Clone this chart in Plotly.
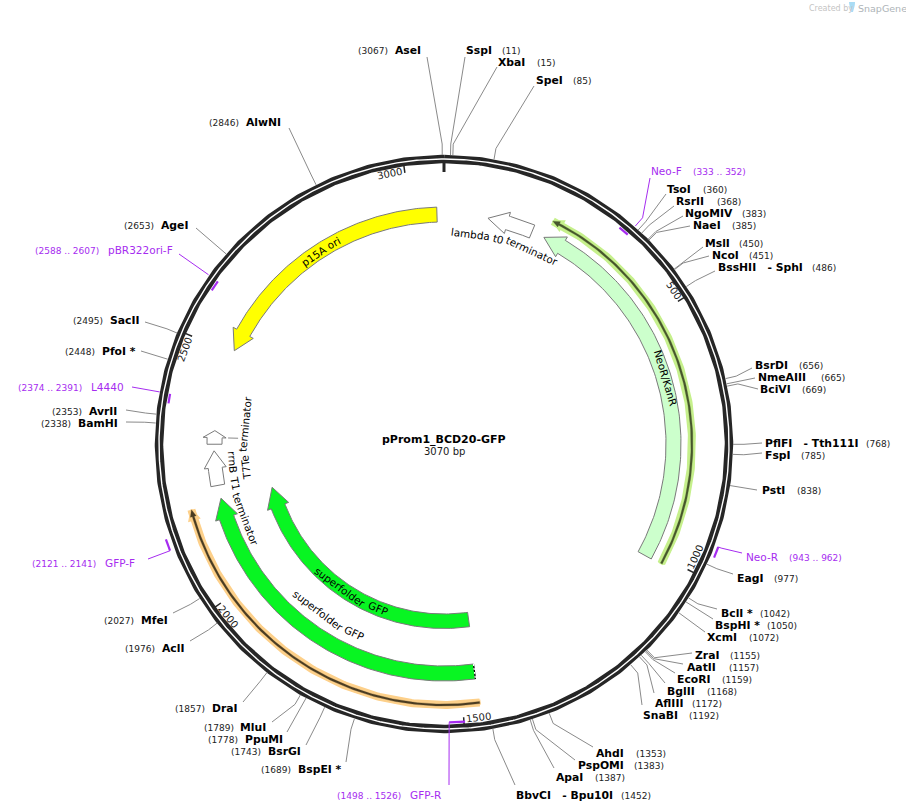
#!/usr/bin/env python3
"""Plasmid map of pProm1_BCD20-GFP, everything placed from bp positions."""

import numpy as np
import plotly.graph_objects as go

# ========== data ==========
PLASMID_NAME = "pProm1_BCD20-GFP"
PLASMID_LEN = 3070

ENZYME_NAMES = ["AseI", "SspI", "XbaI", "SpeI", "TsoI", "RsrII", "NgoMIV", "NaeI", "MslI", "NcoI",
                "BssHII   - SphI", "BsrDI", "NmeAIII", "BciVI", "PflFI   - Tth111I", "FspI", "PstI", "EagI",
                "BclI *", "BspHI *", "XcmI", "ZraI", "AatII", "EcoRI", "BglII", "AflIII", "SnaBI",
                "AhdI", "PspOMI", "ApaI", "BbvCI   - Bpu10I", "BspEI *", "BsrGI", "PpuMI", "MluI", "DraI",
                "AclI", "MfeI", "BamHI", "AvrII", "PfoI *", "SacII", "AgeI", "AlwNI"]
ENZYME_SITES = [3067, 11, 15, 85, 360, 368, 383, 385, 450, 451,
                486, 656, 665, 669, 768, 785, 838, 977,
                1042, 1050, 1072, 1155, 1157, 1159, 1168, 1172, 1192,
                1353, 1383, 1387, 1452, 1689, 1743, 1778, 1789, 1857,
                1976, 2027, 2338, 2353, 2448, 2495, 2653, 2846]

PRIMER_NAMES = ["Neo-F", "Neo-R", "GFP-R", "GFP-F", "L4440", "pBR322ori-F"]
PRIMER_STARTS = [333, 943, 1498, 2121, 2374, 2588]
PRIMER_ENDS = [352, 962, 1526, 2141, 2391, 2607]

FEATURE_NAMES = ["p15A ori", "lambda t0 terminator", "NeoR/KanR", "superfolder GFP", "superfolder GFP",
                 "rrnB T1 terminator", "T7Te terminator"]
FEATURE_TAILS = [3055, 192, 1015, 1470, 1467, 2214, 2302]
FEATURE_TIPS = [2507, 94, 220, 2186, 2182, 2288, 2331]

THIN_TAILS = [1013, 1468]
THIN_TIPS = [222, 2178]

RULER_TICKS = [500, 1000, 1500, 2000, 2500, 3000]

# ========== layout (pixels of the 906x812 page) ==========
CX, CY = 444, 444
RING_R = 285
FONT = "DejaVu Sans"
GREY = "#8a8a8a"
DARK = "#262626"
PURPLE = "#a62cf0"

# name left edge, name y, position-label left edge, leader end x / y, same order as ENZYME_NAMES
NAME_X = [395, 466, 498, 536, 667, 676, 685, 693, 705, 712,
          718, 755, 758, 760, 765, 765, 762, 737,
          721, 715, 707, 695, 687, 677, 667, 655, 643,
          596, 578, 556, 516, 298, 268, 245, 240, 212,
          162, 141, 78, 89, 102, 110, 161, 246]
NAME_Y = [50, 50, 62, 80, 189, 201, 213, 225, 243, 255,
          267, 365, 377, 389, 443.5, 455.5, 490, 578,
          613, 625, 637, 655, 667, 679, 691, 703, 715,
          753, 765, 777, 795, 769, 751, 739, 727, 708,
          648, 620, 423, 411, 351, 320, 225, 122]
SITE_X = [358, 502, 537, 573, 703, 717, 742, 732, 739, 749,
          812, 799, 821, 802, 866, 801, 797, 774,
          760, 767, 749, 730, 729, 722, 707, 692, 689,
          636, 634, 595, 621, 261, 231, 208, 204, 175,
          125, 104, 41, 52, 65, 73, 124, 209]
LEAD_X = [427, 465, 497, 534, 666, 674, 683, 690, 703, 709,
          715, 752, 755, 758, 762, 762, 757, 733,
          717, 713, 705, 692, 683, 675, 665, 654, 642,
          593, 575, 554, 515, 346, 306, 287, 272, 243,
          190, 173, 126, 126, 141, 145, 196, 289]
LEAD_Y = [57, 57, 67, 86, 194, 206, 216, 226, 247, 256,
          271, 368, 378, 389, 443, 453, 490, 574,
          609, 619, 632, 653, 664, 673, 683, 693, 705,
          747, 760, 768, 785, 762, 745, 732, 722, 702,
          641, 613, 422, 410, 351, 322, 228, 128]

PRIMER_R = [278.5, 293, 278.5, 294, 278.5, 278.5]
PRIMER_LEAD_BP = [352, 943, 1526, 2121, 2391, 2607]
PRIMER_STUB_R = [(290, 301), (293, 296), (278.5, 279.5), (294, 296), (289, 290), (290, 291)]
PRIMER_LEAD_X = [650, 742, 449, 148, 132, 179]
PRIMER_LEAD_Y = [178, 553, 785, 559, 387, 254]
PRIMER_TEXT_X = [651, 746, 410, 105, 91, 108]
PRIMER_TEXT_Y = [171, 557, 795, 563, 387, 250]
PRIMER_SITE_X = [693, 789, 337, 32, 18, 35]

# feature band radii, fills and arrow-head lengths
FEATURE_R = [(222, 237), (223, 237), (222, 237), (222, 237), (170, 184.5), (223, 237), (222, 237)]
FEATURE_FILL = ["#ffff00", "#ffffff", "#ccffcc", "#08f522", "#08f522", "#ffffff", "#ffffff"]
FEATURE_HEAD_PX = [20, 20, 20, 20, 20, 17, 7]
THIN_R = [248, 261]
THIN_GLOW = ["#c6f08c", "#fdd08a"]
THIN_CORE = ["#46562c", "#4a3c22"]

# DejaVu Sans advance widths (em), only used to space the words along an arc
CHAR_EM = {" ": .318, "0": .636, "1": .636, "5": .636, "7": .636, "A": .684, "B": .686, "F": .575, "G": .775,
           "P": .603, "T": .611, "a": .613, "b": .635, "d": .635, "e": .615, "f": .352, "i": .278, "l": .278,
           "m": .974, "n": .634, "o": .612, "p": .635, "r": .411, "s": .521, "t": .392, "u": .634}


def bp_deg(bp):
    return np.asarray(bp, dtype=float) / PLASMID_LEN * 360.0


def polar(deg, r):
    a = np.radians(deg)
    return CX + r * np.sin(a), CY - r * np.cos(a)


def bp_xy(bp, r):
    return polar(bp_deg(bp), r)


fig = go.Figure()


def add_line(xs, ys, color, width, dash=None, name=None):
    fig.add_trace(go.Scatter(x=list(xs), y=list(ys), mode="lines", name=name,
                             line=dict(color=color, width=width, dash=dash),
                             hoverinfo="skip" if name is None else "name"))


def label(text, x, y, size, color="#000000", anchor="left", angle=0):
    fig.add_annotation(x=x, y=y, xref="x", yref="y", text=text, showarrow=False, xanchor=anchor,
                       yanchor="middle", textangle=angle, borderpad=0, borderwidth=0,
                       font=dict(family=FONT, size=size, color=color))


def arrow_outline(tail, tip, r_in, r_out, head_px=20, wing=4):
    # unwrap so the sweep takes the short way round the circle
    a0, a1 = bp_deg(tail), bp_deg(tip)
    if a1 - a0 > 180:
        a1 -= 360
    if a0 - a1 > 180:
        a1 += 360
    rm = (r_in + r_out) / 2
    sign = 1 if a1 > a0 else -1
    base = a1 - sign * np.degrees(head_px / rm)
    arc = np.linspace(a0, base, 120)
    ox, oy = polar(arc, r_out)
    ix, iy = polar(arc[::-1], r_in)
    hx1, hy1 = polar(base, r_out + wing)
    tx, ty = polar(a1, rm)
    hx2, hy2 = polar(base, r_in - wing)
    xs = list(ox) + [hx1, tx, hx2] + list(ix) + [ox[0]]
    ys = list(oy) + [hy1, ty, hy2] + list(iy) + [oy[0]]
    return xs, ys


def arc_words(text, center_deg, r, size, flip=False, color="#000000"):
    # words stay whole, each one turned to the tangent at its own middle
    total = sum(CHAR_EM.get(c, .6) for c in text) * size
    pos = -total / 2
    sign = -1 if flip else 1
    for word in text.split(" "):
        w = sum(CHAR_EM.get(c, .6) for c in word) * size
        deg = center_deg + sign * np.degrees((pos + w / 2) / r)
        x, y = polar(deg, r)
        label(word, x, y, size, color, "center", deg - 180 if flip else (deg + 180) % 360 - 180)
        pos += w + CHAR_EM[" "] * size


# --- backbone ---
ring = np.linspace(0, 360, 721)
rx, ry = polar(ring, RING_R)
add_line(rx, ry, DARK, 8.5)
add_line(rx, ry, "#ffffff", 1.4)

# --- enzyme leaders ---
for name, site, lx, ly in zip(ENZYME_NAMES, ENZYME_SITES, LEAD_X, LEAD_Y):
    x0, y0 = bp_xy(site, 289)
    x1, y1 = bp_xy(site, 300)
    add_line([x0, x1, lx], [y0, y1, ly], GREY, 1)

# --- ruler ---
tx0, ty0 = polar(0, 284)
tx1, ty1 = polar(0, 272)
add_line([tx0, tx1], [ty0, ty1], DARK, 3)
for tick in RULER_TICKS:
    x0, y0 = bp_xy(tick, 282)
    x1, y1 = bp_xy(tick, 274)
    add_line([x0, x1], [y0, y1], DARK, 1.5)
    deg = float(bp_deg(tick)) - (2.3 if tick < 1000 else 3.1)
    tx, ty = polar(deg, 276)
    flip = 90 < deg < 270
    rot = deg - 180 if flip else (deg + 180) % 360 - 180
    label(str(tick), tx, ty, 10, "#1a1a1a", "center", rot)

# --- primers ---
for i, name in enumerate(PRIMER_NAMES):
    arc = np.linspace(PRIMER_STARTS[i], PRIMER_ENDS[i], 12)
    px, py = bp_xy(arc, PRIMER_R[i])
    add_line(px, py, PURPLE, 2.2, name=f"{name} ({PRIMER_STARTS[i]} .. {PRIMER_ENDS[i]})")
    x0, y0 = bp_xy(PRIMER_LEAD_BP[i], PRIMER_STUB_R[i][0])
    x1, y1 = bp_xy(PRIMER_LEAD_BP[i], PRIMER_STUB_R[i][1])
    add_line([x0, x1, PRIMER_LEAD_X[i]], [y0, y1, PRIMER_LEAD_Y[i]], PURPLE, 1)
    label(name, PRIMER_TEXT_X[i], PRIMER_TEXT_Y[i], 10.5, PURPLE)
    label(f"({PRIMER_STARTS[i]} .. {PRIMER_ENDS[i]})", PRIMER_SITE_X[i], PRIMER_TEXT_Y[i] + 0.5, 9, PURPLE)

# --- thin highlighted features ---
for i in range(len(THIN_TAILS)):
    arc = np.linspace(THIN_TAILS[i], THIN_TIPS[i], 200)
    hx, hy = bp_xy(arc, THIN_R[i])
    add_line(hx, hy, THIN_GLOW[i], 8)
    gx, gy = arrow_outline(THIN_TAILS[i], THIN_TIPS[i], THIN_R[i] - 2, THIN_R[i] + 2, head_px=10, wing=3)
    fig.add_trace(go.Scatter(x=gx, y=gy, mode="lines", fill="toself", fillcolor=THIN_GLOW[i],
                             line=dict(color=THIN_GLOW[i], width=2), hoverinfo="skip"))
    cx, cy = arrow_outline(THIN_TAILS[i], THIN_TIPS[i], THIN_R[i] - 1, THIN_R[i] + 1, head_px=7, wing=2)
    fig.add_trace(go.Scatter(x=cx, y=cy, mode="lines", fill="toself", fillcolor=THIN_CORE[i],
                             line=dict(color=THIN_CORE[i], width=0.3), hoverinfo="skip"))

# --- feature arrows ---
for i, name in enumerate(FEATURE_NAMES):
    r_in, r_out = FEATURE_R[i]
    ax, ay = arrow_outline(FEATURE_TAILS[i], FEATURE_TIPS[i], r_in, r_out, head_px=FEATURE_HEAD_PX[i])
    fig.add_trace(go.Scatter(x=ax, y=ay, mode="lines", fill="toself", fillcolor=FEATURE_FILL[i], name=name,
                             line=dict(color="#7a7a7a", width=1), hoverinfo="name"))

# outer GFP is cut by the origin of the feature: dotted tail
dx0, dy0 = bp_xy(FEATURE_TAILS[3], 222)
dx1, dy1 = bp_xy(FEATURE_TAILS[3], 237)
add_line([dx0, dx1], [dy0, dy1], "#000000", 1.2)
add_line([dx0, dx1], [dy0, dy1], "#ffffff", 1.2, dash="2px,2px")

# T7Te leader
lx0, ly0 = polar(271.6, 216)
lx1, ly1 = polar(271.6, 206)
add_line([lx0, lx1], [ly0, ly1], GREY, 1)

# --- feature names ---
arc_words(FEATURE_NAMES[0], 327.4, 229, 10.4)
arc_words(FEATURE_NAMES[1], 17, 212, 10.4)
arc_words(FEATURE_NAMES[2], 73.5, 231, 10.4)
arc_words(FEATURE_NAMES[3], 214, 209, 10.4, flip=True)
arc_words(FEATURE_NAMES[4], 212.2, 177, 10.4, flip=True)
arc_words(FEATURE_NAMES[5], 255, 212, 10.4, flip=True)
arc_words(FEATURE_NAMES[6], 271.6, 200, 10.4)

# --- enzyme labels ---
for name, site, nx, ny, sx in zip(ENZYME_NAMES, ENZYME_SITES, NAME_X, NAME_Y, SITE_X):
    label(f"<b>{name}</b>", nx, ny, 10.8)
    label(f"({site})", sx, ny + 0.5, 9, "#222222")

# --- centre ---
label(f"<b>{PLASMID_NAME}</b>", CX, 439, 11, anchor="center")
label(f"{PLASMID_LEN} bp", CX, 451, 10, "#1a1a1a", anchor="center")

# --- SnapGene mark ---
label("Created by", 809, 8, 8, "#c4c4c4")
label("SnapGene", 858, 8, 9.5, "#aeb4b8")

fig.update_layout(
    width=906, height=812,
    margin=dict(l=0, r=0, t=0, b=0),
    paper_bgcolor="#ffffff", plot_bgcolor="#ffffff",
    showlegend=False,
    xaxis=dict(range=[0, 906], visible=False, fixedrange=True),
    yaxis=dict(range=[812, 0], visible=False, fixedrange=True),
    shapes=[dict(type="path", xref="x", yref="y", line=dict(width=0), fillcolor="#a9dcf5",
                 path="M849,2 L855,2 C855,6 854,8 853,12 L851,12 C851,8 849,6 849,2 Z")],
)

fig.write_html("out.html", post_script="document.body.style.margin='0';", config={"displayModeBar": False})
